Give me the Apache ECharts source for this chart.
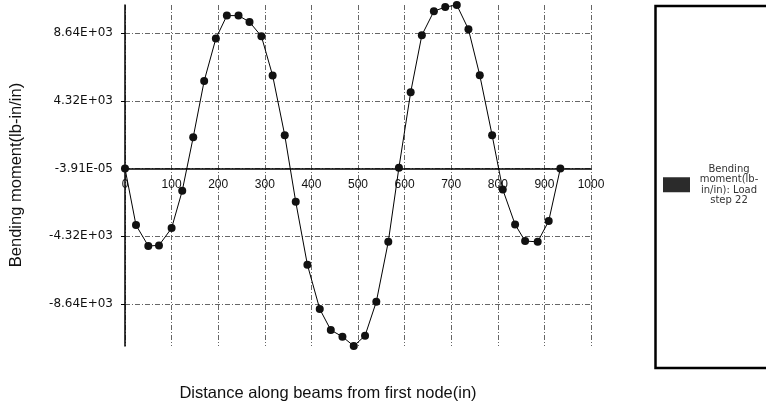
<!DOCTYPE html>
<html>
<head>
<meta charset="utf-8">
<script src="https://cdn.jsdelivr.net/npm/echarts@6/dist/echarts.min.js"></script>
<style>
  html, body { margin: 0; padding: 0; background: #fff; }
  #chart { width: 766px; height: 407px; }
</style>
</head>
<body>
<div id="chart"></div>
<script>
// Node positions along the beams (in) and bending moment at each node (lb-in/in)
const distance = [0, 23.6, 50, 72.9, 100, 122.8, 146.4, 169.9, 195, 218.6, 243.6, 267.2, 292.7, 316.8, 342.8, 366.4, 391.4, 417.9, 441.6, 466.6, 490.9, 515.1, 539.3, 565, 587.8, 613, 637, 662.8, 687.2, 712, 737, 761.3, 787.8, 810.6, 837.1, 858.6, 885.6, 909.2, 934.2];
const moment = [0, -3617, -4950, -4912, -3809, -1430, 1997, 5589, 8294, 9761, 9761, 9353, 8440, 5933, 2125, -2130, -6150, -8977, -10317, -10744, -11337, -10680, -8510, -4683, 50, 4860, 8505, 10036, 10310, 10438, 8887, 5953, 2125, -1340, -3573, -4638, -4683, -3362, 0];

// Moment axis tick values (the middle one is the solver's near-zero value)
const momentTicks = [-8640, -4320, -0.0000391, 4320, 8640];

const seriesName = 'Bending moment(lb-in/in): Load step 22';
const legendLines = ['Bending', 'moment(lb-', 'in/in): Load', 'step 22'];
const xTitle = 'Distance along beams from first node(in)';
const yTitle = 'Bending moment(lb-in/in)';

// Scientific notation like 8.64E+03
function sci(v) {
  if (v === 0) return '0.00E+00';
  let e = Math.floor(Math.log10(Math.abs(v)));
  let m = v / Math.pow(10, e);
  if (Math.abs(Number(m.toFixed(2))) >= 10) { e += 1; m = v / Math.pow(10, e); }
  const ae = Math.abs(e);
  return m.toFixed(2) + 'E' + (e < 0 ? '-' : '+') + (ae < 10 ? '0' : '') + ae;
}

const gridStyle = { color: '#666', width: 1, type: [5, 2, 1, 2] };
const GRID = { left: 125, right: 175, top: 5, bottom: 61 };

const chart = echarts.init(document.getElementById('chart'), null, { renderer: 'canvas' });
chart.setOption({
  animation: false,
  backgroundColor: '#fff',
  grid: Object.assign({ containLabel: false }, GRID),
  xAxis: {
    type: 'value',
    min: 0, max: 1000, interval: 100,
    axisLine: { show: true, onZero: false, lineStyle: { color: '#000', width: 1.5 } },
    axisTick: { show: false },
    axisLabel: {
      fontFamily: 'Liberation Sans, Arial, sans-serif', fontSize: 12, color: '#111', margin: 10,
      formatter: v => String(v)
    },
    splitLine: { show: true, lineStyle: gridStyle }
  },
  yAxis: {
    type: 'value',
    min: 'dataMin', max: 'dataMax',
    axisLine: { show: true, onZero: false, lineStyle: { color: '#000', width: 1.5 } },
    axisTick: { show: true, length: 4, customValues: momentTicks, lineStyle: { color: '#000' } },
    axisLabel: {
      customValues: momentTicks,
      fontFamily: 'DejaVu Sans, sans-serif', fontSize: 12, color: '#111', margin: 12,
      formatter: v => sci(v)
    },
    splitLine: { show: true, lineStyle: gridStyle }
  },
  legend: {
    left: 663, top: 164,
    orient: 'vertical',
    icon: 'rect',
    itemWidth: 27, itemHeight: 15,
    itemGap: 0,
    padding: 0,
    data: [{ name: seriesName, itemStyle: { color: '#2b2b2b' } }],
    formatter: () => legendLines.map(l => '{a|' + l + '}').join('\n'),
    textStyle: {
      rich: {
        a: { fontFamily: 'DejaVu Sans, sans-serif', fontSize: 10, lineHeight: 10.5, color: '#333', width: 68, align: 'center' }
      }
    }
  },
  graphic: [
    {
      type: 'rect', z: 0, silent: true,
      shape: { x: 655.5, y: 6, width: 150, height: 362 },
      style: { fill: 'none', stroke: '#000', lineWidth: 2.5 }
    },
    {
      type: 'text', silent: true,
      style: { x: 328, y: 393, text: xTitle, fontFamily: 'Liberation Sans, Arial, sans-serif', fontSize: 16.5, fill: '#111', align: 'center', verticalAlign: 'middle' }
    },
    {
      type: 'text', silent: true,
      x: 16, y: 175, rotation: Math.PI / 2,
      style: { x: 0, y: 0, text: yTitle, fontFamily: 'Liberation Sans, Arial, sans-serif', fontSize: 16.5, fill: '#111', align: 'center', verticalAlign: 'middle' }
    }
  ],
  series: [{
    name: seriesName,
    type: 'line',
    data: distance.map((d, i) => [d, moment[i]]),
    symbol: 'circle',
    symbolSize: 8,
    smooth: false,
    lineStyle: { color: '#000', width: 1 },
    itemStyle: { color: '#111' }
  }]
});

// Put the distance axis (line and labels) on the zero-moment line
const zeroY = chart.convertToPixel({ gridIndex: 0 }, [0, 0])[1];
const bottomY = 407 - GRID.bottom;
chart.setOption({ xAxis: { offset: zeroY - bottomY } });
</script>
</body>
</html>
